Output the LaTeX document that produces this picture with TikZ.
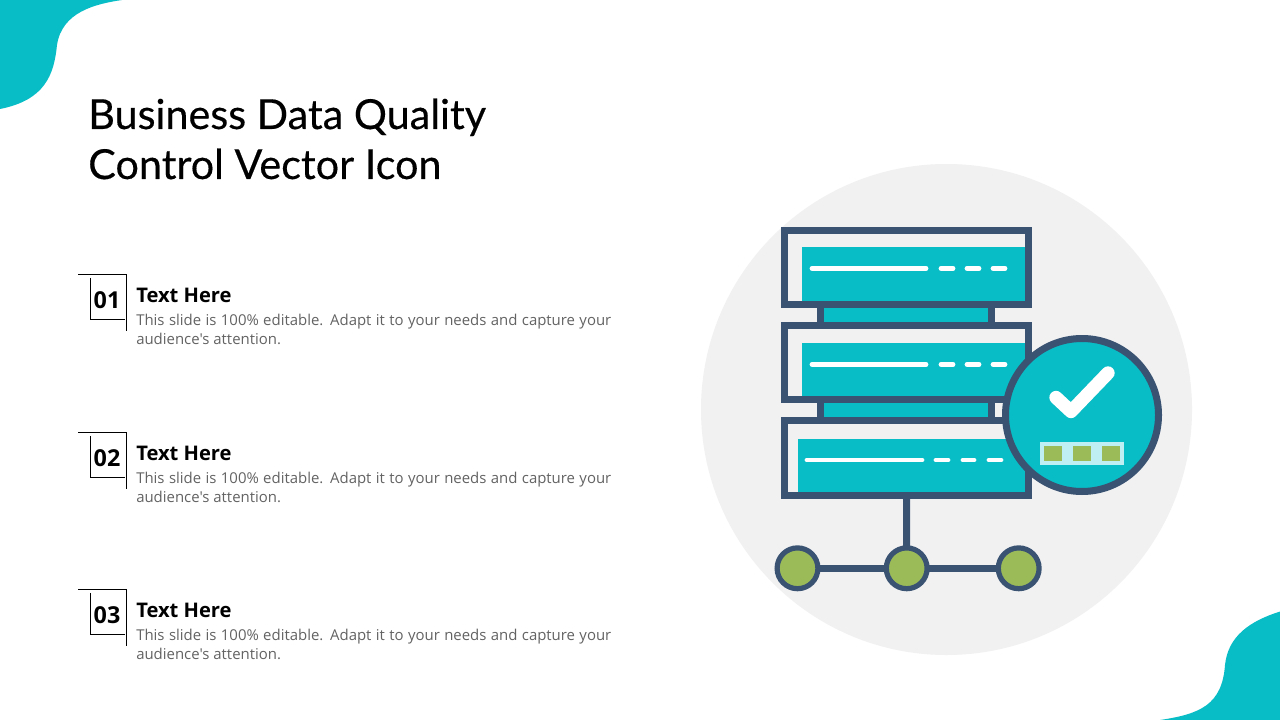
\documentclass[tikz,border=0pt]{standalone}
\usepackage{fontspec}
\setmainfont{Open Sans}
\newfontfamily\titlefont[FakeBold=0.35]{Lato}
\newfontfamily\bodyfont{Open Sans}
\definecolor{teal1}{HTML}{08BDC6}
\definecolor{navy1}{HTML}{3A5372}
\definecolor{grey1}{HTML}{F1F1F2}
\definecolor{green1}{HTML}{9BBB59}
\definecolor{pale1}{HTML}{BFEFF3}
\definecolor{body1}{HTML}{636363}
\tikzset{
  x=0.75pt,y=-0.75pt,
  serverbox/.style={draw=navy1,line width=5.25pt,fill=none,inner sep=0pt,outer sep=0pt,minimum width=183pt},
  tealfill/.style={fill=teal1,draw=none},
  wline/.style={draw=white,line width=3.6pt,line cap=round},
  link/.style={draw=navy1,line width=5.25pt},
  dot/.style={circle,draw=navy1,line width=3.9pt,fill=green1,inner sep=0pt,minimum size=30.6pt},
  rule/.style={draw=black,line width=0.7pt},
  titletext/.style={anchor=base west,inner sep=0pt,font=\titlefont\fontsize{31pt}{37.5pt}\selectfont,text=black},
  numtext/.style={anchor=center,inner sep=0pt,font=\bfseries\fontsize{17.5pt}{20pt}\selectfont,text=black},
  headtext/.style={anchor=base west,inner sep=0pt,font=\bfseries\fontsize{15.1pt}{18pt}\selectfont,text=black},
  bodytext/.style={anchor=north west,inner sep=0pt,text width=356.25pt,align=justify,font=\bodyfont\fontsize{11.2pt}{14.25pt}\selectfont,text=body1},
}
\newcommand{\listitem}[3]{%
  \coordinate (r#1a) at (78,#2);
  \coordinate (r#1b) at (126.7,#2);
  \coordinate (r#1c) at (126.7,#2+56.5);
  \coordinate (r#1d) at (90.7,#2+3.5);
  \coordinate (r#1e) at (90.7,#2+45);
  \coordinate (r#1f) at (125,#2+45);
  \draw[rule] (r#1a) -- (r#1b) -- (r#1c);
  \draw[rule] (r#1d) -- (r#1e) -- (r#1f);
  \node[numtext] (num#1) at (107,#2+26) {#3};
  \node[headtext] (head#1) at (136,#2+28) {Text Here};
  \node[bodytext] (body#1) at (136,#2+39.5) {This slide is 100\% editable. Adapt it to your needs and capture your\linebreak audience's attention.};
}
\begin{document}
\begin{tikzpicture}
\useasboundingbox (0,0) rectangle (1280,720);
\fill[white] (0,0) rectangle (1280,720);
% corner blobs
\fill[teal1] (0,0) -- (122,0) .. controls (95,4) and (62,12) .. (57,45) .. controls (54,75) and (45,100) .. (0,109) -- cycle;
\fill[teal1] (1280,611.5) .. controls (1250,621) and (1228,636) .. (1225,665) .. controls (1222,705) and (1200,714) .. (1160,720) -- (1280,720) -- cycle;
% backdrop
\fill[grey1] (946.5,409.5) circle[radius=245.5];
% title
\node[titletext] (t1) at (88,129) {Business Data Quality};
\node[titletext] (t2) at (88,179) {Control Vector Icon};
% list
\listitem{1}{274.3}{01}
\listitem{2}{432.3}{02}
\listitem{3}{589.3}{03}
% teal fills
\fill[tealfill] (802,246.7) rectangle (1026,302);
\fill[tealfill] (823,306) rectangle (989,323);
\fill[tealfill] (802,342.7) rectangle (1026,398);
\fill[tealfill] (823,402) rectangle (989,418);
\fill[tealfill] (798,439) rectangle (1026,493);
% connector uprights
\draw[link] (820.2,305) -- (820.2,324);
\draw[link] (991.2,305) -- (991.2,324);
\draw[link] (820.2,400) -- (820.2,419);
\draw[link] (991.2,400) -- (991.2,419);
% servers
\node[serverbox,minimum height=55.3pt] (srv1) at (906.5,267.4) {};
\node[serverbox,minimum height=55.5pt] (srv2) at (906.5,362.5) {};
\node[serverbox,minimum height=56pt] (srv3) at (906.5,457.9) {};
% white lines
\foreach \yy in {268.3,364.3}{
  \draw[wline] (812,\yy) -- (926,\yy);
  \draw[wline] (941,\yy) -- (953,\yy);
  \draw[wline] (967,\yy) -- (979,\yy);
  \draw[wline] (993,\yy) -- (1005,\yy);
}
\draw[wline] (807,460) -- (922,460);
\draw[wline] (936,460) -- (948,460);
\draw[wline] (963,460) -- (974,460);
\draw[wline] (989,460) -- (1001,460);
% status badge
\node[circle,draw=navy1,line width=5.25pt,fill=teal1,inner sep=0pt,minimum size=114.75pt] (badge) at (1082,415) {};
\draw[white,line width=10pt,line cap=round,line join=round] (1056,397.5) -- (1071,411.5) -- (1108,373);
\fill[pale1] (1040,442) rectangle (1124,465);
\fill[green1] (1044,446) rectangle (1062,461);
\fill[green1] (1073,446) rectangle (1091,461);
\fill[green1] (1102,446) rectangle (1120,461);
% network
\node[dot] (d1) at (797.5,568.3) {};
\node[dot] (d2) at (906.7,568.3) {};
\node[dot] (d3) at (1018.7,568.3) {};
\draw[link,shorten >=-1pt] (srv3.south) -- (d2.north);
\draw[link,shorten <=-1pt,shorten >=-1pt] (d1.east) -- (d2.west);
\draw[link,shorten <=-1pt,shorten >=-1pt] (d2.east) -- (d3.west);
\end{tikzpicture}
\end{document}
